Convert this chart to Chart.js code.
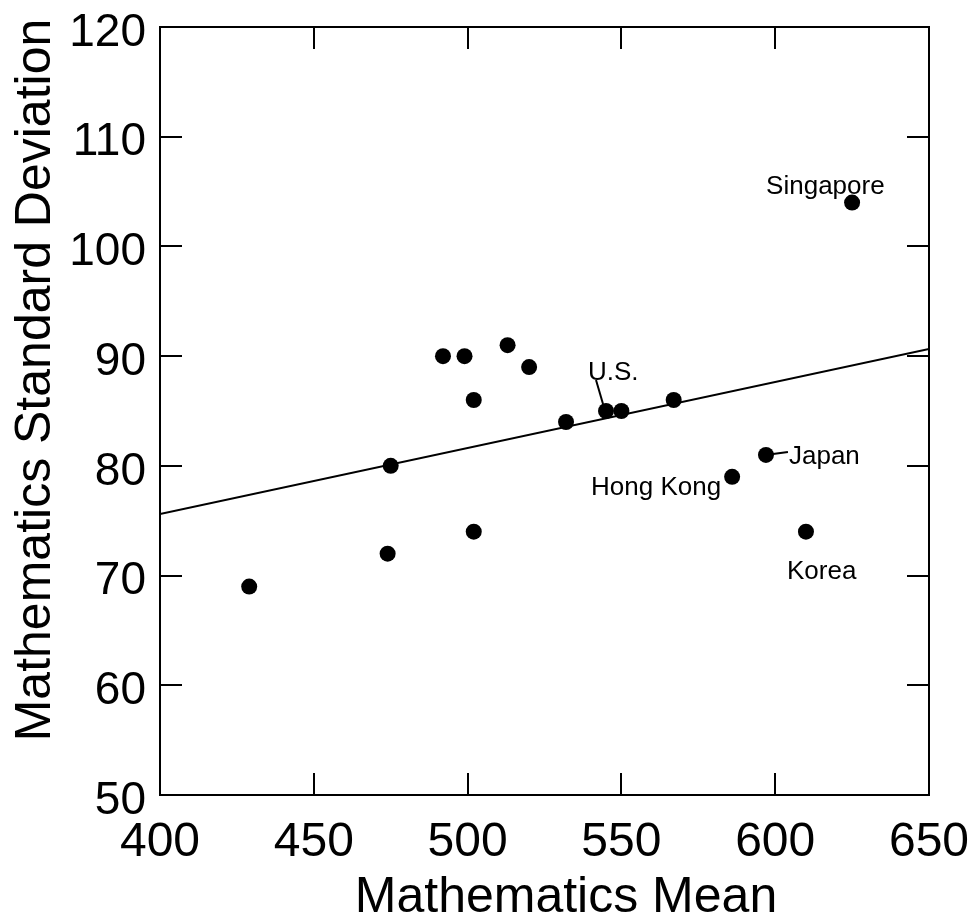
<!DOCTYPE html>
<html>
<head>
<meta charset="utf-8">
<title>Mathematics Mean vs Standard Deviation</title>
<script src="https://cdn.jsdelivr.net/npm/chart.js@4.4.1/dist/chart.umd.min.js"></script>
<style>
  html, body { margin: 0; padding: 0; background: #fff; }
  canvas { display: block; }
</style>
</head>
<body>
<canvas id="chart" width="978" height="918"></canvas>
<script>
// country scores: mean on x, standard deviation on y
const mathMean = [429, 474, 475, 492, 499, 502, 502, 513, 520, 532, 545, 550, 567, 586, 597, 610, 625];
const mathSD   = [69, 72, 80, 90, 90, 86, 74, 91, 89, 84, 85, 85, 86, 79, 81, 74, 104];
const countryNames = ['', '', '', '', '', '', '', '', '', '', 'U.S.', '', '', 'Hong Kong', 'Japan', 'Korea', 'Singapore'];

// fitted trend line end points
const fitX = [400, 650];
const fitY = [75.6, 90.65];

const xTitle = 'Mathematics Mean';
const yTitle = 'Mathematics Standard Deviation';

const FONT = '"Liberation Sans", Arial, Helvetica, sans-serif';

// where each country name sits relative to its dot (px)
const labelPlacement = {
  'Singapore': { dx: -86, dy: -9, align: 'left' },
  'U.S.':      { dx: -18, dy: -31, align: 'left', leader: [-10, -31, -3, -7] },
  'Japan':     { dx: 23, dy: 9, align: 'left', leader: [7, -1, 22, -3] },
  'Hong Kong': { dx: -11, dy: 18, align: 'right' },
  'Korea':     { dx: -19, dy: 47, align: 'left' }
};

const framePlugin = {
  id: 'frame',
  afterDraw(chart) {
    const { ctx, chartArea, scales } = chart;
    const { left, right, top, bottom } = chartArea;
    const xs = scales.x, ys = scales.y;
    const tick = 22;

    ctx.save();
    ctx.strokeStyle = '#000';
    ctx.lineWidth = 2;
    ctx.strokeRect(left, top, right - left, bottom - top);

    ctx.beginPath();
    xs.ticks.forEach(t => {
      const px = Math.round(xs.getPixelForValue(t.value));
      if (px <= left + 1 || px >= right - 1) return;
      ctx.moveTo(px, bottom); ctx.lineTo(px, bottom - tick);
      ctx.moveTo(px, top); ctx.lineTo(px, top + tick);
    });
    ys.ticks.forEach(t => {
      const py = Math.round(ys.getPixelForValue(t.value));
      if (py <= top + 1 || py >= bottom - 1) return;
      ctx.moveTo(left, py); ctx.lineTo(left + tick, py);
      ctx.moveTo(right, py); ctx.lineTo(right - tick, py);
    });
    ctx.stroke();

    // axis titles
    ctx.fillStyle = '#000';
    ctx.font = '50px ' + FONT;
    ctx.textAlign = 'center';
    ctx.textBaseline = 'alphabetic';
    ctx.fillText(xTitle, 566, 912);

    ctx.save();
    ctx.translate(50, 380);
    ctx.rotate(-Math.PI / 2);
    ctx.fillText(yTitle, 0, 0);
    ctx.restore();

    // country names
    ctx.font = '26px ' + FONT;
    ctx.lineWidth = 2;
    countryNames.forEach((name, i) => {
      if (!name) return;
      const p = labelPlacement[name];
      const px = xs.getPixelForValue(mathMean[i]);
      const py = ys.getPixelForValue(mathSD[i]);
      ctx.textAlign = p.align;
      ctx.fillText(name, px + p.dx, py + p.dy);
      if (p.leader) {
        const [x1, y1, x2, y2] = p.leader;
        ctx.beginPath();
        ctx.moveTo(px + x1, py + y1);
        ctx.lineTo(px + x2, py + y2);
        ctx.stroke();
      }
    });
    ctx.restore();
  }
};

const points = mathMean.map((m, i) => ({ x: m, y: mathSD[i] }));
const fitLine = fitX.map((x, i) => ({ x, y: fitY[i] }));

new Chart(document.getElementById('chart').getContext('2d'), {
  type: 'scatter',
  data: {
    datasets: [
      {
        type: 'line',
        data: fitLine,
        borderColor: '#000',
        borderWidth: 2,
        pointRadius: 0,
        fill: false,
        order: 2
      },
      {
        data: points,
        backgroundColor: '#000',
        borderColor: '#000',
        borderWidth: 0,
        pointRadius: 8,
        pointHoverRadius: 8,
        order: 1
      }
    ]
  },
  options: {
    responsive: false,
    animation: false,
    events: [],
    layout: { padding: { top: 27, right: 49, left: 0, bottom: 0 } },
    plugins: {
      legend: { display: false },
      tooltip: { enabled: false }
    },
    scales: {
      x: {
        type: 'linear',
        min: 400,
        max: 650,
        grid: { display: false },
        border: { display: false },
        ticks: {
          stepSize: 50,
          color: '#000',
          padding: 16,
          maxRotation: 0,
          font: { family: FONT, size: 48, lineHeight: 1 }
        },
        afterFit(scale) {
          scale.height = 123;
          scale.paddingLeft = 0;
          scale.paddingRight = 0;
        }
      },
      y: {
        type: 'linear',
        min: 50,
        max: 120,
        grid: { display: false },
        border: { display: false },
        ticks: {
          stepSize: 10,
          color: '#000',
          padding: 6,
          labelOffset: 6,
          font: { family: FONT, size: 46, lineHeight: 1 }
        },
        afterFit(scale) {
          scale.width = 160;
          scale.paddingTop = 0;
          scale.paddingBottom = 0;
        }
      }
    }
  },
  plugins: [framePlugin]
});
</script>
</body>
</html>
